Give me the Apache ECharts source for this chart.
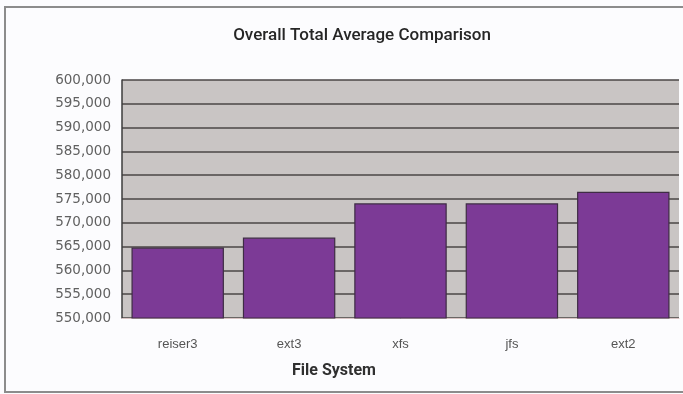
<!DOCTYPE html>
<html>
<head>
<meta charset="utf-8">
<script src="https://cdn.jsdelivr.net/npm/echarts@6/dist/echarts.min.js"></script>
<style>
  html, body { margin: 0; padding: 0; background: #ffffff; }
  #chart { width: 683px; height: 394px; }
</style>
</head>
<body>
<div id="chart"></div>
<script>
// File systems benchmarked and their overall total average scores
const fileSystems = ['reiser3', 'ext3', 'xfs', 'jfs', 'ext2'];
const averageTotals = [564800, 566900, 574100, 574100, 576500];
const axisMin = 550000;
const axisMax = 600000;
const axisStep = 5000;

const chart = echarts.init(document.getElementById('chart'), null, { renderer: 'canvas' });

chart.setOption({
  backgroundColor: '#fcfcfe',
  animation: false,
  title: [
    {
      text: 'Overall Total Average Comparison',
      left: 357,
      top: 22,
      textAlign: 'center',
      textStyle: {
        fontFamily: 'Roboto',
        fontSize: 17,
        fontWeight: 500,
        color: '#262626'
      }
    },
    {
      text: 'File System',
      left: 329,
      top: 358,
      textAlign: 'center',
      textStyle: {
        fontFamily: 'Roboto',
        fontSize: 16,
        fontWeight: 'bold',
        color: '#303030'
      }
    }
  ],
  graphic: [
    {
      type: 'rect',
      silent: true,
      z: -1,
      shape: { x: 5, y: 7, width: 740, height: 385 },
      style: { fill: 'none', stroke: '#8c8c8c', lineWidth: 2 }
    }
  ],
  grid: {
    left: 122,
    right: 4,
    top: 80,
    bottom: 76,
    show: true,
    backgroundColor: '#c9c5c4',
    borderWidth: 0
  },
  xAxis: {
    type: 'category',
    data: fileSystems,
    axisTick: { show: false },
    axisLine: { show: true, lineStyle: { color: '#d9c4c4', width: 1 } },
    axisLabel: {
      margin: 20,
      fontFamily: 'Liberation Sans',
      fontSize: 13,
      color: '#555555'
    }
  },
  yAxis: {
    type: 'value',
    min: axisMin,
    max: axisMax,
    interval: axisStep,
    axisLine: { show: true, lineStyle: { color: '#3c3c3c', width: 1.5 } },
    axisTick: { show: false },
    splitLine: { lineStyle: { color: '#4a4646', width: 1.6 } },
    axisLabel: {
      margin: 11,
      fontFamily: 'DejaVu Sans',
      fontSize: 13.5,
      color: '#616161',
      formatter: v => v.toLocaleString('en-US')
    }
  },
  series: [
    {
      type: 'bar',
      data: averageTotals,
      barCategoryGap: '17%',
      itemStyle: {
        color: '#7c3a96',
        borderColor: '#3e2c44',
        borderWidth: 1.2
      }
    }
  ]
});
</script>
</body>
</html>
